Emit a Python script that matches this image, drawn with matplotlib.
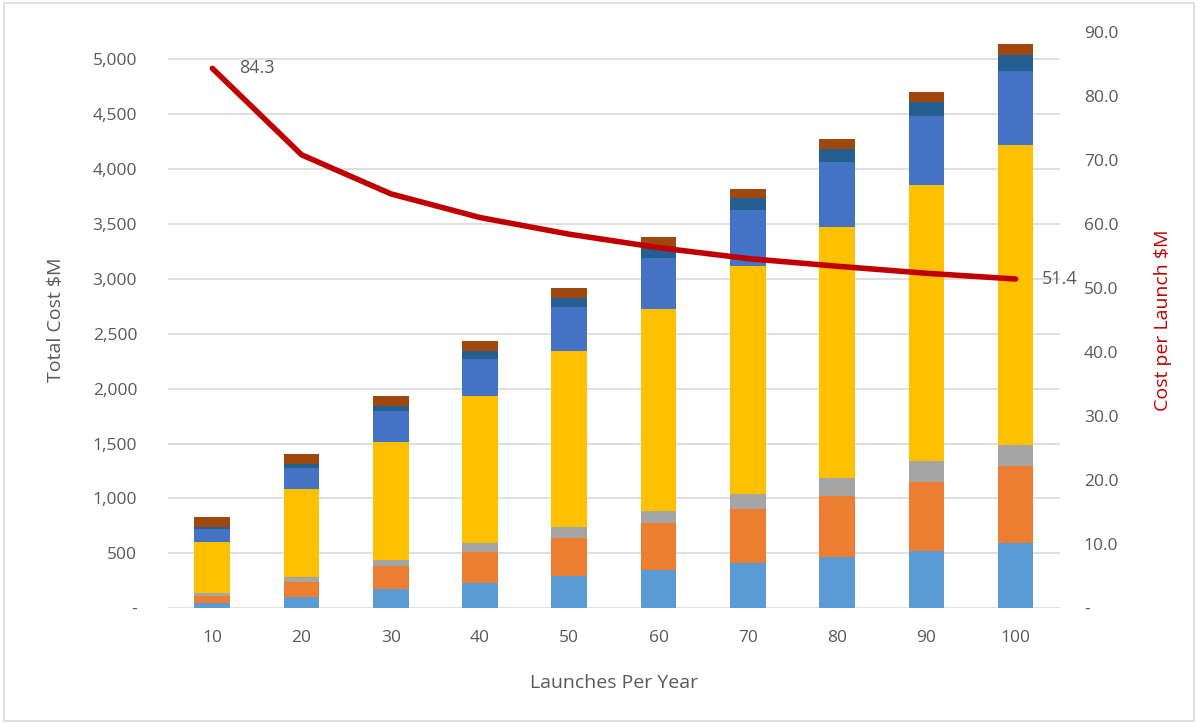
import matplotlib.pyplot as plt
import matplotlib.ticker as mticker
from matplotlib.patches import Rectangle
import numpy as np

# Данные
launches = ['10', '20', '30', '40', '50', '60', '70', '80', '90', '100']
seg_lightblue = [48, 100, 170, 230, 290, 350, 410, 468, 525, 597]
seg_orange = [62, 140, 210, 281, 352, 422, 489, 558, 628, 700]
seg_gray = [25, 46, 58, 80, 93, 115, 137, 164, 185, 190]
seg_yellow = [467, 797, 1077, 1343, 1610, 1841, 2078, 2286, 2515, 2728]
seg_blue = [119, 197, 280, 338, 395, 465, 515, 584, 627, 676]
seg_darkblue = [21, 37, 48, 73, 82, 110, 103, 119, 128, 148]
seg_brown = [85, 91, 91, 91, 95, 75, 85, 91, 97, 98]
cost_per_launch = [84.3, 70.8, 64.7, 61.0, 58.4, 56.3, 54.6, 53.4, 52.3, 51.4]

segments = [seg_lightblue, seg_orange, seg_gray, seg_yellow,
            seg_blue, seg_darkblue, seg_brown]
colors = ['#5B9BD5', '#ED7D31', '#A5A5A5', '#FFC000',
          '#4472C4', '#255E91', '#9E480E']

plt.rcParams['font.family'] = ['Open Sans', 'DejaVu Sans']
txt = '#595959'
grid = '#D9D9D9'

fig = plt.figure(figsize=(11.98, 7.24), dpi=100)
ax = fig.add_axes([0.140, 0.160, 0.745, 0.796])

x = np.arange(len(launches))
bottom = np.zeros(len(launches))
for seg, c in zip(segments, colors):
    ax.bar(x, seg, width=0.40, bottom=bottom, color=c, zorder=2)
    bottom += np.array(seg)

ax.set_xlim(-0.5, len(launches) - 0.5)
ax.set_ylim(0, 5250)
ax.set_yticks(np.arange(0, 5001, 500))
ax.yaxis.set_major_formatter(mticker.FuncFormatter(
    lambda v, p: '-' if v == 0 else f'{v:,.0f}'))
ax.set_xticks(x)
ax.set_xticklabels(launches)
ax.grid(axis='y', color=grid, lw=1.2, zorder=0)
for s in ax.spines.values():
    s.set_visible(False)
ax.tick_params(axis='y', length=0, pad=22, labelsize=12.5, labelcolor=txt)
ax.tick_params(axis='x', length=0, pad=16, labelsize=12.5, labelcolor=txt)
ax.set_ylabel('Total Cost $M', fontsize=14, color=txt, labelpad=20)
ax.set_xlabel('Launches Per Year', fontsize=14, color=txt, labelpad=20)

# Вторая ось
ax2 = ax.twinx()
ax2.plot(x, cost_per_launch, color='#C00000', lw=4, zorder=5,
         solid_capstyle='round')
ax2.set_ylim(0, 90)
ax2.set_yticks(np.arange(0, 91, 10))
ax2.yaxis.set_major_formatter(mticker.FuncFormatter(
    lambda v, p: '-' if v == 0 else f'{v:.1f}'))
for s in ax2.spines.values():
    s.set_visible(False)
ax2.tick_params(axis='y', length=0, pad=17, labelsize=12.5, labelcolor=txt)
ax2.set_ylabel('Cost per Launch $M', fontsize=14, color='#C00000', labelpad=26)

for i in (0, len(launches) - 1):
    ax2.annotate(f'{cost_per_launch[i]:.1f}', (x[i], cost_per_launch[i]),
                 xytext=(19, 0), textcoords='offset points',
                 va='center', ha='left', fontsize=13, color=txt)

fig.patches.append(Rectangle((0.003, 0.004), 0.994, 0.992, transform=fig.transFigure,
                             fill=False, edgecolor=grid, lw=1.2))

plt.savefig('out.png', dpi=100)
